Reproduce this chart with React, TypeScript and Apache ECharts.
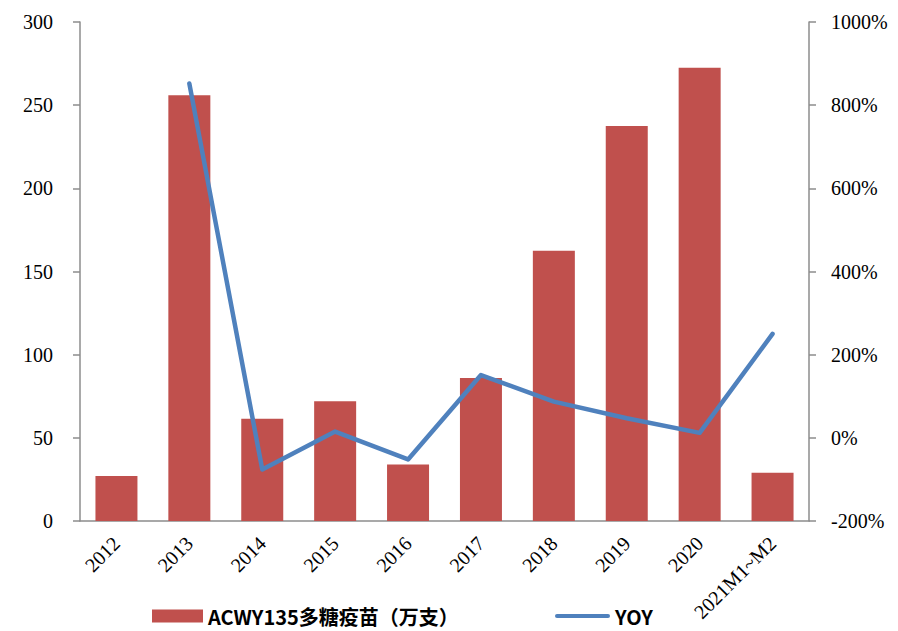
import React, { useEffect, useRef } from "react";
import * as echarts from "echarts";

const categories = ["2012", "2013", "2014", "2015", "2016", "2017", "2018", "2019", "2020", "2021M1~M2"];
const volumes = [27, 256, 61.5, 72, 34, 86, 162.5, 237.5, 272.5, 29];
const yoy = [null, 852, -76, 15, -52, 151, 87, 47, 12, 250];
const leftTicks = { min: 0, max: 300, interval: 50 };
const rightTicks = { min: -200, max: 1000, interval: 200 };
const barName = "ACWY135多糖疫苗（万支）";
const lineName = "YOY";

const serif = "'Liberation Serif', 'Times New Roman', serif";
const axisColor = "#8c8c8c";
const legendText = {
  fontFamily: "'Noto Sans CJK SC', 'Noto Sans', sans-serif",
  fontWeight: "bold",
  fontSize: 20,
  lineHeight: 20,
  color: "#000",
};

export default function App() {
  const ref = useRef<HTMLDivElement>(null);
  useEffect(() => {
    if (!ref.current) return;
    const chart = echarts.init(ref.current, null, { renderer: "svg" });
    chart.setOption({
      animation: false,
      backgroundColor: "#ffffff",
      grid: { left: 80, right: 89, top: 22, bottom: 110, containLabel: false },
      legend: [
        {
          left: 152,
          top: 606,
          padding: 0,
          itemWidth: 51,
          itemHeight: 13,
          itemGap: 0,
          textStyle: legendText,
          data: [{ name: barName, icon: "rect" }],
        },
        {
          left: 555,
          top: 606,
          padding: 0,
          itemWidth: 55,
          itemHeight: 13,
          textStyle: legendText,
          data: [
            {
              name: lineName,
              icon: "path://M0,0 M0,13 M2,4.5 L53,4.5 Q55,4.5 55,6.5 Q55,8.5 53,8.5 L2,8.5 Q0,8.5 0,6.5 Q0,4.5 2,4.5 Z M55,0",
            },
          ],
        },
      ],
      xAxis: {
        type: "category",
        data: categories,
        boundaryGap: true,
        axisLine: { lineStyle: { color: axisColor, width: 1.5 } },
        axisTick: { show: false },
        axisLabel: {
          rotate: 45,
          interval: 0,
          margin: 19,
          fontFamily: serif,
          fontSize: 20,
          color: "#000",
        },
      },
      yAxis: [
        {
          type: "value",
          position: "left",
          min: leftTicks.min,
          max: leftTicks.max,
          interval: leftTicks.interval,
          splitLine: { show: false },
          axisLine: { show: true, lineStyle: { color: axisColor, width: 1.5 } },
          axisTick: { show: true, length: 7, lineStyle: { color: axisColor, width: 1.5 } },
          axisLabel: { margin: 27, fontFamily: serif, fontSize: 20, color: "#000" },
        },
        {
          type: "value",
          position: "right",
          min: rightTicks.min,
          max: rightTicks.max,
          interval: rightTicks.interval,
          splitLine: { show: false },
          axisLine: { show: true, lineStyle: { color: axisColor, width: 1.5 } },
          axisTick: { show: true, length: 7, lineStyle: { color: axisColor, width: 1.5 } },
          axisLabel: {
            margin: 22,
            fontFamily: serif,
            fontSize: 20,
            color: "#000",
            formatter: (v: number) => `${v}%`,
          },
        },
      ],
      series: [
        {
          name: barName,
          type: "bar",
          yAxisIndex: 0,
          data: volumes,
          barWidth: 42,
          itemStyle: { color: "#C0504D" },
        },
        {
          name: lineName,
          type: "line",
          yAxisIndex: 1,
          data: yoy,
          symbol: "none",
          connectNulls: false,
          lineStyle: { color: "#4F81BD", width: 4.5, cap: "round", join: "round" },
          itemStyle: { color: "#4F81BD" },
        },
      ],
    });
    return () => chart.dispose();
  }, []);
  return (
    <div
      ref={ref}
      style={{ position: "fixed", left: 0, top: 0, width: 898, height: 631, background: "#fff" }}
    />
  );
}
